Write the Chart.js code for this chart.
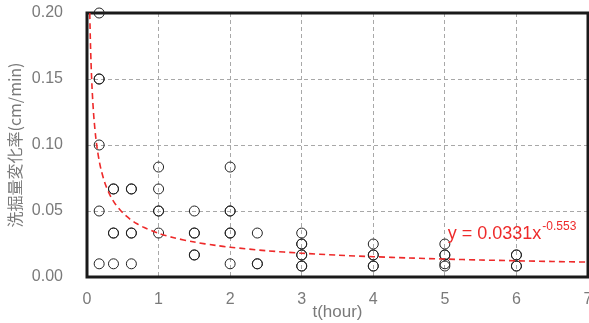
<!DOCTYPE html>
<html>
<head>
<meta charset="utf-8">
<script src="https://cdn.jsdelivr.net/npm/chart.js@4.4.1/dist/chart.umd.min.js"></script>
<style>
  html, body { margin: 0; padding: 0; background: #fff; overflow: hidden; }
  #wrap { width: 600px; height: 323px; }
</style>
</head>
<body>
<div id="wrap"><canvas id="chart" width="600" height="323"></canvas></div>
<script>
// measured points (t in hours, rate in cm/min); repeats are overlapping samples
const tHours = [
  0.17, 0.17, 0.17, 0.17, 0.17, 0.17,
  0.37, 0.37, 0.37, 0.37, 0.37,
  0.62, 0.62, 0.62, 0.62, 0.62,
  1, 1, 1, 1, 1,
  1.5, 1.5, 1.5, 1.5, 1.5,
  2, 2, 2, 2, 2, 2,
  2.38, 2.38, 2.38,
  3, 3, 3, 3, 3, 3, 3,
  4, 4, 4, 4, 4,
  5, 5, 5, 5, 5,
  6, 6, 6, 6
];
const rates = [
  0.2, 0.15, 0.15, 0.1, 0.05, 0.01,
  0.0667, 0.0667, 0.0333, 0.0333, 0.01,
  0.0667, 0.0667, 0.0333, 0.0333, 0.01,
  0.0833, 0.0667, 0.05, 0.05, 0.0333,
  0.05, 0.0333, 0.0333, 0.0167, 0.0167,
  0.0833, 0.05, 0.05, 0.0333, 0.0333, 0.01,
  0.0333, 0.01, 0.01,
  0.0333, 0.025, 0.025, 0.0167, 0.0167, 0.0083, 0.0083,
  0.025, 0.0167, 0.0167, 0.0083, 0.0083,
  0.025, 0.0167, 0.0167, 0.01, 0.0083,
  0.0167, 0.0167, 0.0083, 0.0083
];

// power trendline shown on the chart: y = 0.0331 x^-0.553
const fitA = 0.0331;
const fitB = -0.553;
const fitX = [0.0387, 0.042, 0.046, 0.05, 0.055, 0.06, 0.07, 0.08, 0.09, 0.1, 0.12, 0.14, 0.17, 0.2,
  0.25, 0.3, 0.35, 0.4, 0.5, 0.6, 0.7, 0.8, 1, 1.2, 1.5, 1.8, 2, 2.5, 3, 3.5, 4, 4.5, 5, 5.5, 6, 6.5, 7];

const xTicks = [0, 1, 2, 3, 4, 5, 6, 7];
const yTicks = [0, 0.05, 0.1, 0.15, 0.2];

const pts = tHours.map((t, i) => ({ x: t, y: rates[i] }));
const fitPts = fitX.map(x => ({ x: x, y: fitA * Math.pow(x, fitB) }));

const gray = '#7a7a7a';

const framePlugin = {
  id: 'frame',
  beforeDatasetsDraw(chart) {
    const a = chart.chartArea, ctx = chart.ctx;
    ctx.save();
    ctx.strokeStyle = '#1a1a1a';
    ctx.lineWidth = 3;
    ctx.strokeRect(a.left, a.top, a.right - a.left, a.bottom - a.top);
    ctx.restore();
  },
  afterDatasetsDraw(chart) {
    const ctx = chart.ctx, xs = chart.scales.x, ys = chart.scales.y;
    const px = xs.getPixelForValue(5.04), py = ys.getPixelForValue(0.029);
    ctx.save();
    ctx.fillStyle = '#ee2a2a';
    ctx.textBaseline = 'alphabetic';
    ctx.font = '18px "Liberation Sans", Arial, sans-serif';
    const main = 'y = ' + fitA + 'x';
    ctx.fillText(main, px, py);
    const w = ctx.measureText(main).width;
    ctx.font = '12px "Liberation Sans", Arial, sans-serif';
    ctx.fillText(String(fitB), px + w + 1, py - 9);
    ctx.restore();
  }
};

// drop the label overflow padding so the plot area sits where the layout padding says
function noPad(s) {
  s.paddingTop = 0; s.paddingBottom = 0; s.paddingLeft = 0; s.paddingRight = 0;
}

new Chart(document.getElementById('chart'), {
  type: 'scatter',
  data: {
    datasets: [
      {
        type: 'line',
        data: fitPts,
        borderColor: '#ee2a2a',
        borderWidth: 1.6,
        borderDash: [6, 4],
        pointRadius: 0,
        tension: 0.3,
        fill: false
      },
      {
        data: pts,
        pointStyle: 'circle',
        pointRadius: 5,
        pointBorderWidth: 1,
        pointBackgroundColor: 'rgba(0,0,0,0)',
        pointBorderColor: '#222',
        clip: false
      }
    ]
  },
  options: {
    responsive: false,
    animation: false,
    layout: { padding: { top: 13, right: 12, left: 0, bottom: 0 } },
    plugins: { legend: { display: false }, tooltip: { enabled: false } },
    scales: {
      x: {
        type: 'linear',
        min: 0, max: 7,
        afterBuildTicks: s => { s.ticks = xTicks.map(v => ({ value: v })); },
        afterFit: s => { s.height = 46; noPad(s); },
        grid: { color: '#a8a8a8', lineWidth: 1, drawTicks: false },
        border: { display: false, dash: [4, 3] },
        ticks: {
          color: gray, padding: 13,
          font: { family: '"Liberation Sans", Arial, sans-serif', size: 16 }
        },
        title: {
          display: true, text: 't(hour)', color: gray,
          padding: { top: 0, bottom: 0 },
          font: { family: '"Liberation Sans", Arial, sans-serif', size: 17 }
        }
      },
      y: {
        min: 0, max: 0.2,
        afterBuildTicks: s => { s.ticks = yTicks.map(v => ({ value: v })); },
        afterFit: s => { s.width = 87; noPad(s); },
        grid: { color: '#a8a8a8', lineWidth: 1, drawTicks: false },
        border: { display: false, dash: [4, 3] },
        ticks: {
          color: gray, padding: 24,
          callback: v => v.toFixed(2),
          font: { family: '"Liberation Sans", Arial, sans-serif', size: 16 }
        },
        title: {
          display: true, text: '洗掘量変化率(cm/min)', color: gray,
          padding: { top: 5, bottom: 0 },
          font: { family: '"Noto Sans CJK JP", "Liberation Sans", sans-serif', size: 16 }
        }
      }
    }
  },
  plugins: [framePlugin]
});
</script>
</body>
</html>
